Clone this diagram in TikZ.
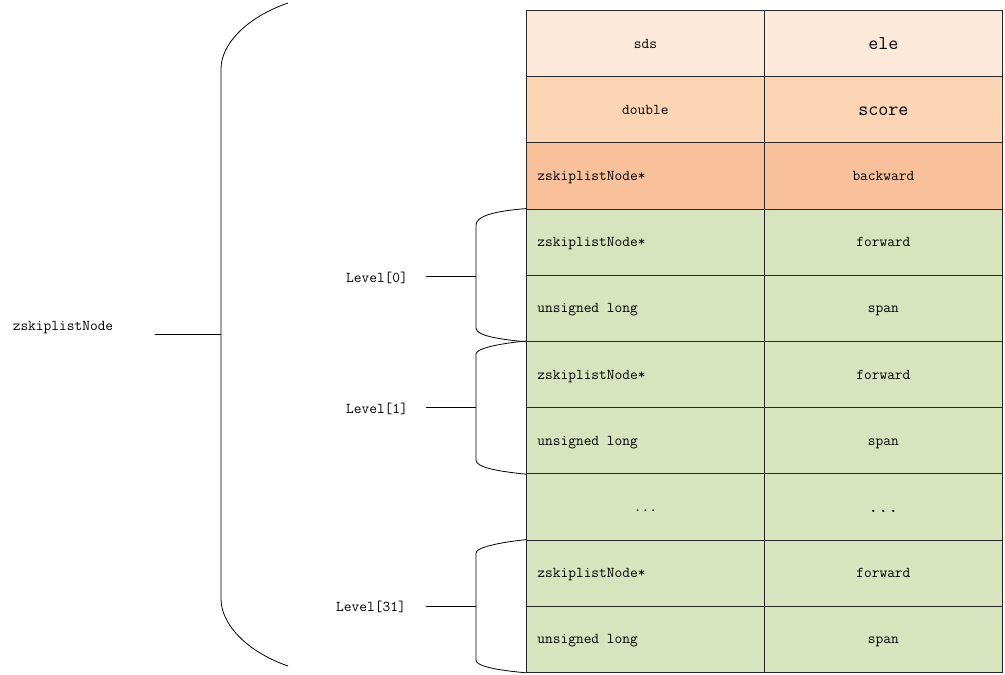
\documentclass[tikz,border=0pt]{standalone}
\usepackage{fontspec}
\setmonofont[WordSpace={1,0,0}]{Latin Modern Mono}
\definecolor{c1}{HTML}{FDE9D9}
\definecolor{c2}{HTML}{FCD5B4}
\definecolor{c3}{HTML}{F9C19A}
\definecolor{cg}{HTML}{D7E4BD}
\newcommand{\fixsp}{\spaceskip=0pt\xspaceskip=0pt\relax}
\begin{document}
\begin{tikzpicture}[x=1pt,y=-1pt,
  cell/.style={draw=black!85, line width=0.8pt, minimum width=238pt, minimum height=66.2pt,
    inner sep=0pt, text height=10pt, text depth=1pt,
    font=\ttfamily\fontsize{15}{17}\selectfont, anchor=north west},
  lcell/.style={cell, text width=216pt, inner xsep=11pt, align=left},
  big/.style={font=\ttfamily\fontsize{19.5}{21}\selectfont, text height=12pt, text depth=1pt},
  brace/.style={draw=black, line width=0.8pt},
  lbl/.style={font=\ttfamily\fontsize{15}{17}\selectfont, inner sep=0pt}]
\useasboundingbox (0,0) rectangle (1005,675);
% table
\node[cell, fill=c1] (r1l) at (526,10) {sds};
\node[cell, fill=c1, big] (r1r) at (764,10) {ele};
\node[cell, fill=c2] (r2l) at (526,76.2) {double};
\node[cell, fill=c2, big] (r2r) at (764,76.2) {score};
\node[lcell, fill=c3] (r3l) at (526,142.4) {zskiplistNode*};
\node[cell, fill=c3] (r3r) at (764,142.4) {backward};
\node[lcell, fill=cg] (r4l) at (526,208.6) {zskiplistNode*};
\node[cell, fill=cg] (r4r) at (764,208.6) {forward};
\node[lcell, fill=cg] (r5l) at (526,274.8) {\fixsp unsigned long};
\node[cell, fill=cg] (r5r) at (764,274.8) {span};
\node[lcell, fill=cg] (r6l) at (526,341) {zskiplistNode*};
\node[cell, fill=cg] (r6r) at (764,341) {forward};
\node[lcell, fill=cg] (r7l) at (526,407.2) {\fixsp unsigned long};
\node[cell, fill=cg] (r7r) at (764,407.2) {span};
\node[cell, fill=cg] (r8l) at (526,473.4) {...};
\node[cell, fill=cg, big] (r8r) at (764,473.4) {...};
\node[lcell, fill=cg] (r9l) at (526,539.6) {zskiplistNode*};
\node[cell, fill=cg] (r9r) at (764,539.6) {forward};
\node[lcell, fill=cg] (r10l) at (526,605.8) {\fixsp unsigned long};
\node[cell, fill=cg] (r10r) at (764,605.8) {span};
% main brace
\coordinate (mt) at (288,3);
\coordinate (mb) at (288,666);
\coordinate (mm) at (221,334);
\coordinate (mtick) at (155,334);
\draw[brace] (mt) .. controls (245,18) and (221,45) .. (221,69) -- (221,599)
  .. controls (221,623) and (245,651) .. (mb);
\draw[brace] (mtick) -- (mm);
\node[lbl] (zsl) at (63,328) {zskiplistNode};
% level braces
\draw[brace] (r4l.north west) .. controls (495,211) and (476,216) .. (476,225) -- (476,328)
  .. controls (476,335) and (495,339) .. (r5l.south west);
\draw[brace] (r6l.north west) .. controls (495,344) and (476,349) .. (476,354) -- (476,460)
  .. controls (476,467) and (495,471) .. (r7l.south west);
\draw[brace] (r9l.north west) .. controls (495,543) and (476,548) .. (476,553) -- (476,660)
  .. controls (476,666) and (495,670) .. (r10l.south west);
\node[lbl] (lv0) at (377,278) {Level[0]};
\node[lbl] (lv1) at (377,409) {Level[1]};
\node[lbl] (lv31) at (371,607) {Level[31]};
\coordinate (t0) at (426,276);
\coordinate (t1) at (426,407);
\coordinate (t31) at (426,606);
\draw[brace] (t0) -- (476,276);
\draw[brace] (t1) -- (476,407);
\draw[brace] (t31) -- (476,606);
\end{tikzpicture}
\end{document}
